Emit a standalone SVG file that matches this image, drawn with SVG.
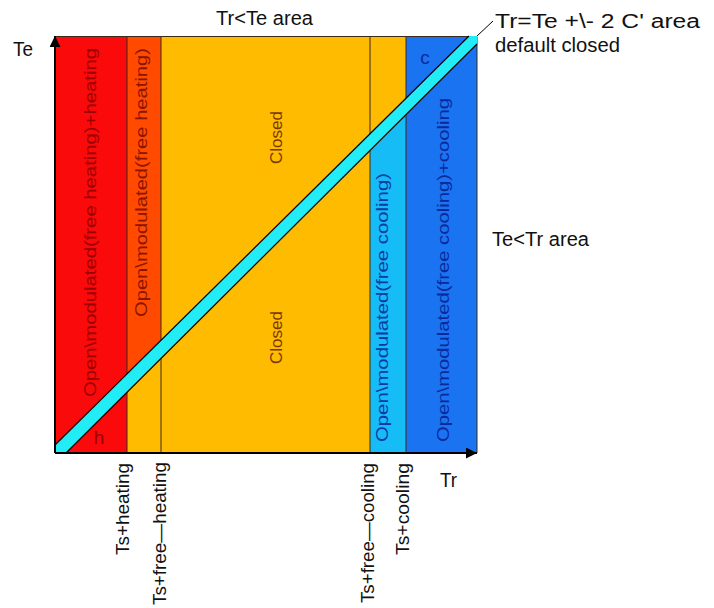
<svg xmlns="http://www.w3.org/2000/svg" width="714" height="608" viewBox="0 0 714 608">
<style>
  text { font-family: "Liberation Sans", Arial, sans-serif; }
  .lbl { font-size: 20px; fill: #111; }
  .ax { font-size: 19px; fill: #111; }
  .in { font-size: 17px; }
  .div { stroke: #3b2a1a; stroke-width: 1; fill: none; }
  .axis { stroke: #000; stroke-width: 2; fill: none; }
</style>
<defs>
  <marker id="arr" viewBox="0 0 10 10" refX="10" refY="5" markerWidth="14" markerHeight="11" markerUnits="userSpaceOnUse" orient="auto">
    <path d="M0,0 L10,5 L0,10 z" fill="#000"/>
  </marker>
</defs>
<rect width="714" height="608" fill="#fff"/>

<g id="zone-closed">
  <rect x="127" y="36" width="279" height="417" fill="#ffbb00"/>
  <text class="in" font-size="18" fill="#7a3a00" text-anchor="middle" transform="translate(282,137.5) rotate(-90)">Closed</text>
  <text class="in" font-size="18" fill="#7a3a00" text-anchor="middle" transform="translate(282,337.5) rotate(-90)">Closed</text>
</g>
<g id="zone-heating">
  <rect x="55" y="36" width="72" height="417" fill="#fa0a0a"/>
  <text class="in" fill="#9a0000" transform="translate(96,397) rotate(-90)" textLength="349" lengthAdjust="spacingAndGlyphs">Open\modulated(free  heating)+heating</text>
  <text x="99" y="444" font-size="19" fill="#9a0000" text-anchor="middle">h</text>
</g>
<g id="zone-free-heating">
  <polygon points="127,36 161,36 161,341 127,374" fill="#ff4a00"/>
  <text class="in" fill="#8a1500" transform="translate(147,317) rotate(-90)" textLength="269" lengthAdjust="spacingAndGlyphs">Open\modulated(free  heating)</text>
</g>
<g id="zone-free-cooling">
  <polygon points="370,151 406,115 406,453 370,453" fill="#16bcf5"/>
  <text class="in" fill="#0d3aa8" transform="translate(388,442) rotate(-90)" textLength="269" lengthAdjust="spacingAndGlyphs">Open\modulated(free  cooling)</text>
</g>
<g id="zone-cooling">
  <rect x="406" y="36" width="71" height="417" fill="#1a74f2"/>
  <text class="in" fill="#0a2a9a" transform="translate(449,442) rotate(-90)" textLength="344" lengthAdjust="spacingAndGlyphs">Open\modulated(free  cooling)+cooling</text>
  <text x="425" y="64" font-size="19" fill="#0a2a9a" text-anchor="middle">c</text>
</g>
<g id="dividers">
  <path class="div" d="M55,36.5 H477 V453 M127,36 V453 M161,36 V453 M370,36 V453 M406,36 V453"/>
</g>
<g id="band-equal">
  <polygon points="55,445 469,36 477,36 477,44 66,453 55,453" fill="#22ecf5"/>
  <line x1="55" y1="445" x2="469" y2="36" stroke="#000" stroke-width="1.2"/>
  <line x1="66" y1="453" x2="477" y2="44" stroke="#000" stroke-width="1.2"/>
</g>

<g id="connectors">
  <line class="axis" x1="55" y1="453" x2="55" y2="36" marker-end="url(#arr)"/>
  <line class="axis" x1="55" y1="453" x2="477" y2="453" marker-end="url(#arr)"/>
  <line x1="477" y1="36" x2="493" y2="21" stroke="#000" stroke-width="1"/>
</g>

<g id="labels">
  <text class="lbl" x="13" y="56" textLength="20" lengthAdjust="spacingAndGlyphs">Te</text>
  <text class="lbl" x="216" y="25" textLength="97" lengthAdjust="spacingAndGlyphs">Tr&lt;Te  area</text>
  <text class="lbl" x="495" y="28" textLength="205" lengthAdjust="spacingAndGlyphs">Tr=Te  +\-  2  C'  area</text>
  <text class="lbl" x="495" y="52" textLength="125" lengthAdjust="spacingAndGlyphs">default  closed</text>
  <text class="lbl" x="492" y="246" textLength="97" lengthAdjust="spacingAndGlyphs">Te&lt;Tr  area</text>
  <text class="lbl" x="440" y="487" textLength="17" lengthAdjust="spacingAndGlyphs">Tr</text>
  <text class="ax" transform="translate(129,555) rotate(-90)" textLength="92" lengthAdjust="spacingAndGlyphs">Ts+heating</text>
  <text class="ax" transform="translate(166,605) rotate(-90)" textLength="143" lengthAdjust="spacingAndGlyphs">Ts+free—heating</text>
  <text class="ax" transform="translate(374,603) rotate(-90)" textLength="140" lengthAdjust="spacingAndGlyphs">Ts+free—cooling</text>
  <text class="ax" transform="translate(409,555) rotate(-90)" textLength="92" lengthAdjust="spacingAndGlyphs">Ts+cooling</text>
</g>
</svg>
